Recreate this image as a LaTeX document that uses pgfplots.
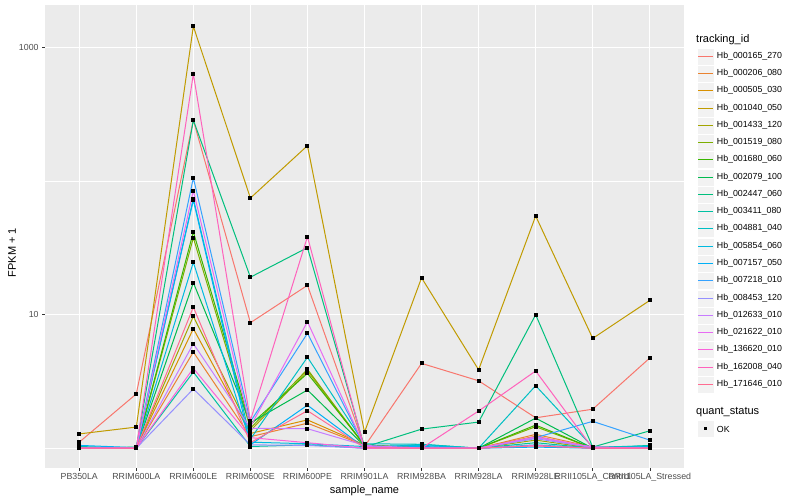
\documentclass[border=0pt]{standalone}
\usepackage{fontspec}
\setmainfont{Liberation Sans}
\usepackage{pgfplots}
\pgfplotsset{compat=1.18}

\definecolor{panel}{HTML}{EBEBEB}
\definecolor{keyfill}{HTML}{F2F2F2}
\definecolor{tickgrey}{HTML}{333333}
\definecolor{labgrey}{HTML}{4D4D4D}
\definecolor{c1}{HTML}{F8766D}
\definecolor{c2}{HTML}{EA8331}
\definecolor{c3}{HTML}{D89000}
\definecolor{c4}{HTML}{C09B00}
\definecolor{c5}{HTML}{A3A500}
\definecolor{c6}{HTML}{7CAE00}
\definecolor{c7}{HTML}{39B600}
\definecolor{c8}{HTML}{00BB4E}
\definecolor{c9}{HTML}{00BF7D}
\definecolor{c10}{HTML}{00C1A3}
\definecolor{c11}{HTML}{00BFC4}
\definecolor{c12}{HTML}{00BAE0}
\definecolor{c13}{HTML}{00B0F6}
\definecolor{c14}{HTML}{35A2FF}
\definecolor{c15}{HTML}{9590FF}
\definecolor{c16}{HTML}{C77CFF}
\definecolor{c17}{HTML}{E76BF3}
\definecolor{c18}{HTML}{FA62DB}
\definecolor{c19}{HTML}{FF62BC}
\definecolor{c20}{HTML}{FF6C91}

\newcommand{\ticksize}{\fontsize{8.8bp}{10bp}\selectfont}
\newcommand{\titlesize}{\fontsize{11bp}{13bp}\selectfont}

\pgfplotsset{
  ser/.style={color=#1, line width=1bp, mark=square*,
    mark options={black, fill=black, solid}, mark size=1.5bp},
}

\begin{document}
\begin{tikzpicture}
\begin{axis}[
  set layers=standard,
  mark layer=axis foreground,
  at={(0,0)}, anchor=south west,
  width=639bp, height=463bp, scale only axis,
  ymode=log, log basis y=10,
  xmin=-0.6, xmax=10.6,
  ymin=0.711, ymax=2089,
  axis background/.style={fill=panel},
  axis line style={draw=none},
  xtick={0,...,10},
  xticklabels={PB350LA,RRIM600LA,RRIM600LE,RRIM600SE,RRIM600PE,RRIM901LA,RRIM928BA,RRIM928LA,RRIM928LE,RRII105LA\_Control,RRII105LA\_Stressed},
  ytick={10,1000}, yticklabels={10,1000},
  minor ytick={1,100},
  /pgf/number format/assume math mode=true,
  grid=both,
  major grid style={white, line width=1.07bp},
  minor grid style={white, line width=0.53bp},
  tick align=outside,
  major tick length=2.75bp, minor tick length=0pt,
  tick style={tickgrey, line width=0.53bp},
  xtick pos=bottom, ytick pos=left,
  ticklabel style={font=\ticksize, text=labgrey},
  xticklabel style={inner sep=0pt, anchor=base, yshift=-9bp},
  yticklabel style={inner sep=0pt, anchor=east, xshift=-3.5bp},
  xlabel={sample\_name}, ylabel={FPKM + 1},
  every axis x label/.style={at={(axis description cs:0.5,0)}, anchor=base, yshift=-25bp, font=\titlesize},
  every axis y label/.style={at={(axis description cs:0,0.4654)}, anchor=center, rotate=90, yshift=33bp, font=\titlesize},
  clip=false,
]
% x: 0 PB350LA, 1 RRIM600LA, 2 RRIM600LE, 3 RRIM600SE, 4 RRIM600PE, 5 RRIM901LA,
%    6 RRIM928BA, 7 RRIM928LA, 8 RRIM928LE, 9 RRII105LA_Control, 10 RRII105LA_Stressed
\addplot[ser=c1] coordinates {(0,1.11) (1,2.55) (2,287) (3,8.71) (4,16.6) (5,1.03) (6,4.32) (7,3.20) (8,1.69) (9,1.96) (10,4.74)};
\addplot[ser=c2] coordinates {(0,1) (1,1) (2,5.26) (3,1.22) (4,1.54) (5,1.05) (6,1.02) (7,1) (8,1.27) (9,1.02) (10,1.01)};
\addplot[ser=c3] coordinates {(0,1) (1,1) (2,7.86) (3,1.29) (4,1.63) (5,1.06) (6,1) (7,1) (8,1.23) (9,1) (10,1)};
\addplot[ser=c4] coordinates {(0,1.28) (1,1.44) (2,1446) (3,74.8) (4,184.5) (5,1.32) (6,18.9) (7,3.87) (8,54.9) (9,6.65) (10,12.8)};
\addplot[ser=c5] coordinates {(0,1) (1,1) (2,9.73) (3,1.35) (4,3.80) (5,1.04) (6,1) (7,1) (8,1.15) (9,1) (10,1)};
\addplot[ser=c6] coordinates {(0,1) (1,1) (2,37.7) (3,1.41) (4,3.90) (5,1.05) (6,1) (7,1) (8,1.45) (9,1) (10,1)};
\addplot[ser=c7] coordinates {(0,1) (1,1) (2,41.7) (3,1.50) (4,3.64) (5,1.06) (6,1) (7,1) (8,1.49) (9,1) (10,1)};
\addplot[ser=c8] coordinates {(0,1) (1,1) (2,17.4) (3,1.55) (4,2.73) (5,1.04) (6,1) (7,1) (8,1.68) (9,1) (10,1)};
\addplot[ser=c9] coordinates {(0,1) (1,1.02) (2,287) (3,19.1) (4,31.8) (5,1.02) (6,1.39) (7,1.57) (8,10.0) (9,1.02) (10,1.35)};
\addplot[ser=c10] coordinates {(0,1.03) (1,1) (2,3.72) (3,1.03) (4,1.06) (5,1) (6,1.07) (7,1) (8,1.10) (9,1) (10,1.05)};
\addplot[ser=c11] coordinates {(0,1) (1,1) (2,74) (3,1.17) (4,4.80) (5,1.08) (6,1.07) (7,1) (8,2.94) (9,1.02) (10,1.04)};
\addplot[ser=c12] coordinates {(0,1) (1,1) (2,24.7) (3,1.11) (4,1.08) (5,1.03) (6,1.05) (7,1) (8,1.06) (9,1) (10,1.03)};
\addplot[ser=c13] coordinates {(0,1.05) (1,1.01) (2,72) (3,1.06) (4,2.10) (5,1.01) (6,1.03) (7,1) (8,1.02) (9,1) (10,1.02)};
\addplot[ser=c14] coordinates {(0,1) (1,1) (2,106) (3,1.58) (4,7.26) (5,1.04) (6,1) (7,1) (8,1.20) (9,1.59) (10,1.15)};
\addplot[ser=c15] coordinates {(0,1) (1,1) (2,2.78) (3,1.06) (4,1.05) (5,1) (6,1) (7,1) (8,1.18) (9,1.01) (10,1)};
\addplot[ser=c16] coordinates {(0,1) (1,1) (2,6.07) (3,1.41) (4,1.40) (5,1.05) (6,1) (7,1) (8,1.20) (9,1.02) (10,1)};
\addplot[ser=c17] coordinates {(0,1) (1,1) (2,84.9) (3,1.45) (4,8.86) (5,1.03) (6,1) (7,1) (8,1.22) (9,1.02) (10,1)};
\addplot[ser=c18] coordinates {(0,1) (1,1) (2,3.97) (3,1.20) (4,1.10) (5,1) (6,1) (7,1) (8,1.05) (9,1) (10,1)};
\addplot[ser=c19] coordinates {(0,1) (1,1) (2,635) (3,1.61) (4,38.4) (5,1) (6,1) (7,1.90) (8,3.79) (9,1) (10,1)};
\addplot[ser=c20] coordinates {(0,1) (1,1) (2,11.4) (3,1.10) (4,1.91) (5,1.01) (6,1) (7,1) (8,1.04) (9,1) (10,1)};
\end{axis}

% legend: tracking_id
\node[font=\titlesize, anchor=base west, inner sep=0pt] at (651bp,425.5bp) {tracking\_id};
\foreach \name [count=\i] in {Hb\_000165\_270,Hb\_000206\_080,Hb\_000505\_030,Hb\_001040\_050,Hb\_001433\_120,Hb\_001519\_080,Hb\_001680\_060,Hb\_002079\_100,Hb\_002447\_060,Hb\_003411\_080,Hb\_004881\_040,Hb\_005854\_060,Hb\_007157\_050,Hb\_007218\_010,Hb\_008453\_120,Hb\_012633\_010,Hb\_021622\_010,Hb\_136620\_010,Hb\_162008\_040,Hb\_171646\_010} {
  \pgfmathsetmacro{\yc}{round(411.3-17.28*(\i-1))+0.5}
  \fill[keyfill, draw=white, line width=0.5bp] (652bp,\yc bp-8.64bp) rectangle (669.28bp,\yc bp+8.64bp);
  \draw[c\i, line width=1.1bp] (653bp,\yc bp) -- (668.3bp,\yc bp);
  \node[font=\ticksize, anchor=west, inner sep=0pt] at (671.7bp,\yc bp) {\name};
}
% legend: quant_status
\node[font=\titlesize, anchor=base west, inner sep=0pt] at (651bp,53bp) {quant\_status};
\fill[keyfill, draw=white, line width=0.5bp] (652bp,30.36bp) rectangle (669.28bp,47.64bp);
\fill[black] (659bp,37.5bp) rectangle (662bp,40.5bp);
\node[font=\ticksize, anchor=west, inner sep=0pt] at (671.7bp,39bp) {OK};

\pgfresetboundingbox
\useasboundingbox (-45bp,-32bp) rectangle (755bp,468bp);
\end{tikzpicture}
\end{document}
